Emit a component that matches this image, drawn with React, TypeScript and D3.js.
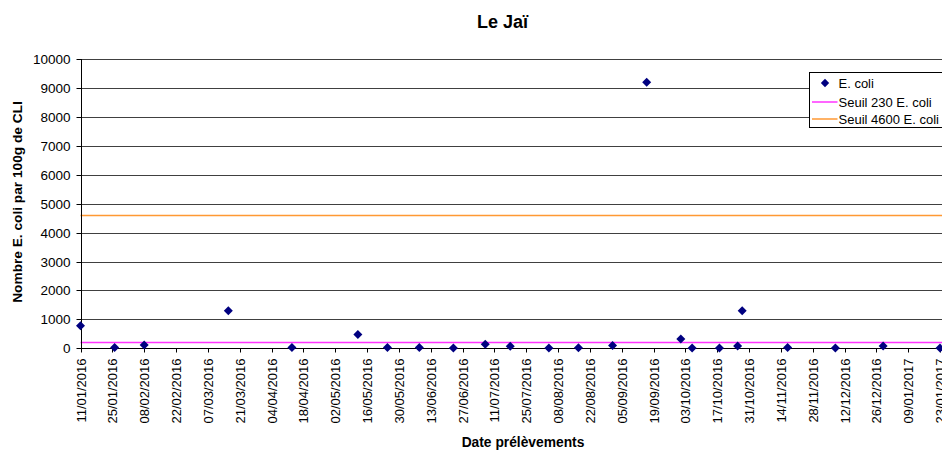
import React from 'react';
import * as d3 from 'd3';

// Sampling dates and E. coli counts (per 100g CLI)
const sampleDates = [
  '11/01/2016', '26/01/2016', '08/02/2016', '16/03/2016', '13/04/2016', '12/05/2016',
  '25/05/2016', '08/06/2016', '23/06/2016', '07/07/2016', '18/07/2016', '04/08/2016',
  '17/08/2016', '01/09/2016', '16/09/2016', '01/10/2016', '06/10/2016', '18/10/2016',
  '26/10/2016', '28/10/2016', '17/11/2016', '08/12/2016', '29/12/2016', '23/01/2017',
];
const ecoliValues = [
  780, 30, 110, 1300, 30, 480,
  30, 30, 10, 140, 70, 10,
  20, 100, 9200, 320, 10, 10,
  80, 1300, 30, 10, 80, 10,
];

const thresholds = [
  { label: 'Seuil 230 E. coli', value: 230, color: '#FF33FF' },
  { label: 'Seuil 4600 E. coli', value: 4600, color: '#FF9933' },
];

const yTicks = [0, 1000, 2000, 3000, 4000, 5000, 6000, 7000, 8000, 9000, 10000];
const xStart = '11/01/2016';
const xEnd = '23/01/2017';

const parse = d3.utcParse('%d/%m/%Y');
const fmt = d3.utcFormat('%d/%m/%Y');
const font = '"Liberation Sans", Arial, sans-serif';

export default function App() {
  const width = 942;
  const height = 450;
  const left = 80.5;
  const right = 940;
  const top = 59;
  const bottom = 348.3;

  const x = d3.scaleUtc()
    .domain([parse(xStart)!, parse(xEnd)!])
    .range([left, right]);
  const y = d3.scaleLinear().domain([0, 10000]).range([bottom, top]);

  const xTicks = d3.utcDay.range(parse(xStart)!, d3.utcDay.offset(parse(xEnd)!, 1), 14);
  const points = sampleDates.map((d, i) => ({ date: parse(d)!, value: ecoliValues[i] }));

  const diamond = (r: number) => `M0,${-r}L${r},0L0,${r}L${-r},0Z`;
  const snap = (v: number) => Math.round(v) + 0.5;

  return (
    <div style={{ position: 'absolute', left: 0, top: 0 }}>
      <svg width={width} height={height} style={{ display: 'block', background: '#fff' }} fontFamily={font}>
        <text x={502.5} y={28} textAnchor="middle" fontSize={18} fontWeight="bold">Le Jaï</text>

        {/* gridlines */}
        {yTicks.map(t => (
          <line key={'g' + t} x1={left} x2={width} y1={snap(y(t))} y2={snap(y(t))}
            stroke="#404040" strokeWidth={1} />
        ))}

        {/* threshold lines */}
        {thresholds.map(th => (
          <line key={th.label} x1={left} x2={width} y1={snap(y(th.value))} y2={snap(y(th.value))}
            stroke={th.color} strokeWidth={1.5} />
        ))}

        {/* y axis */}
        <line x1={snap(left)} x2={snap(left)} y1={top} y2={snap(bottom)} stroke="#000" />
        {yTicks.map(t => (
          <g key={'y' + t} transform={`translate(0,${snap(y(t))})`}>
            <line x1={snap(left) - 5} x2={snap(left)} stroke="#000" />
            <text x={70.5} dy="0.35em" textAnchor="end" fontSize={13.5}>{t}</text>
          </g>
        ))}

        {/* x axis */}
        <line x1={left} x2={width} y1={snap(bottom)} y2={snap(bottom)} stroke="#000" />
        {xTicks.map(t => (
          <g key={'x' + t.getTime()} transform={`translate(${snap(x(t))},${snap(bottom)})`}>
            <line y1={0} y2={4} stroke="#000" />
            <text transform="translate(4.5,10) rotate(-90)" textAnchor="end" fontSize={13}>{fmt(t)}</text>
          </g>
        ))}

        {/* data points */}
        {points.map((p, i) => (
          <path key={'p' + i} d={diamond(4.5)} transform={`translate(${x(p.date)},${y(p.value)})`} fill="#000080" />
        ))}

        {/* axis titles */}
        <text transform={`translate(22,202) rotate(-90)`} textAnchor="middle" fontSize={13.7} fontWeight="bold">
          Nombre E. coli par 100g de CLI
        </text>
        <text x={523} y={447} textAnchor="middle" fontSize={13.8} fontWeight="bold">Date prélèvements</text>

        {/* legend */}
        <g transform="translate(809.5,72.5)">
          <rect width={133} height={55} fill="#fff" stroke="#000" />
          <path d={diamond(4.2)} transform="translate(15.5,10.5)" fill="#000080" />
          <text x={29} y={10.5} dy="0.35em" fontSize={13}>E. coli</text>
          {thresholds.map((th, i) => (
            <g key={'l' + i} transform={`translate(0,${29.5 + i * 17})`}>
              <line x1={2.5} x2={28} stroke={th.color} strokeWidth={1.5} />
              <text x={29} dy="0.35em" fontSize={13}>{th.label}</text>
            </g>
          ))}
        </g>
      </svg>
    </div>
  );
}
